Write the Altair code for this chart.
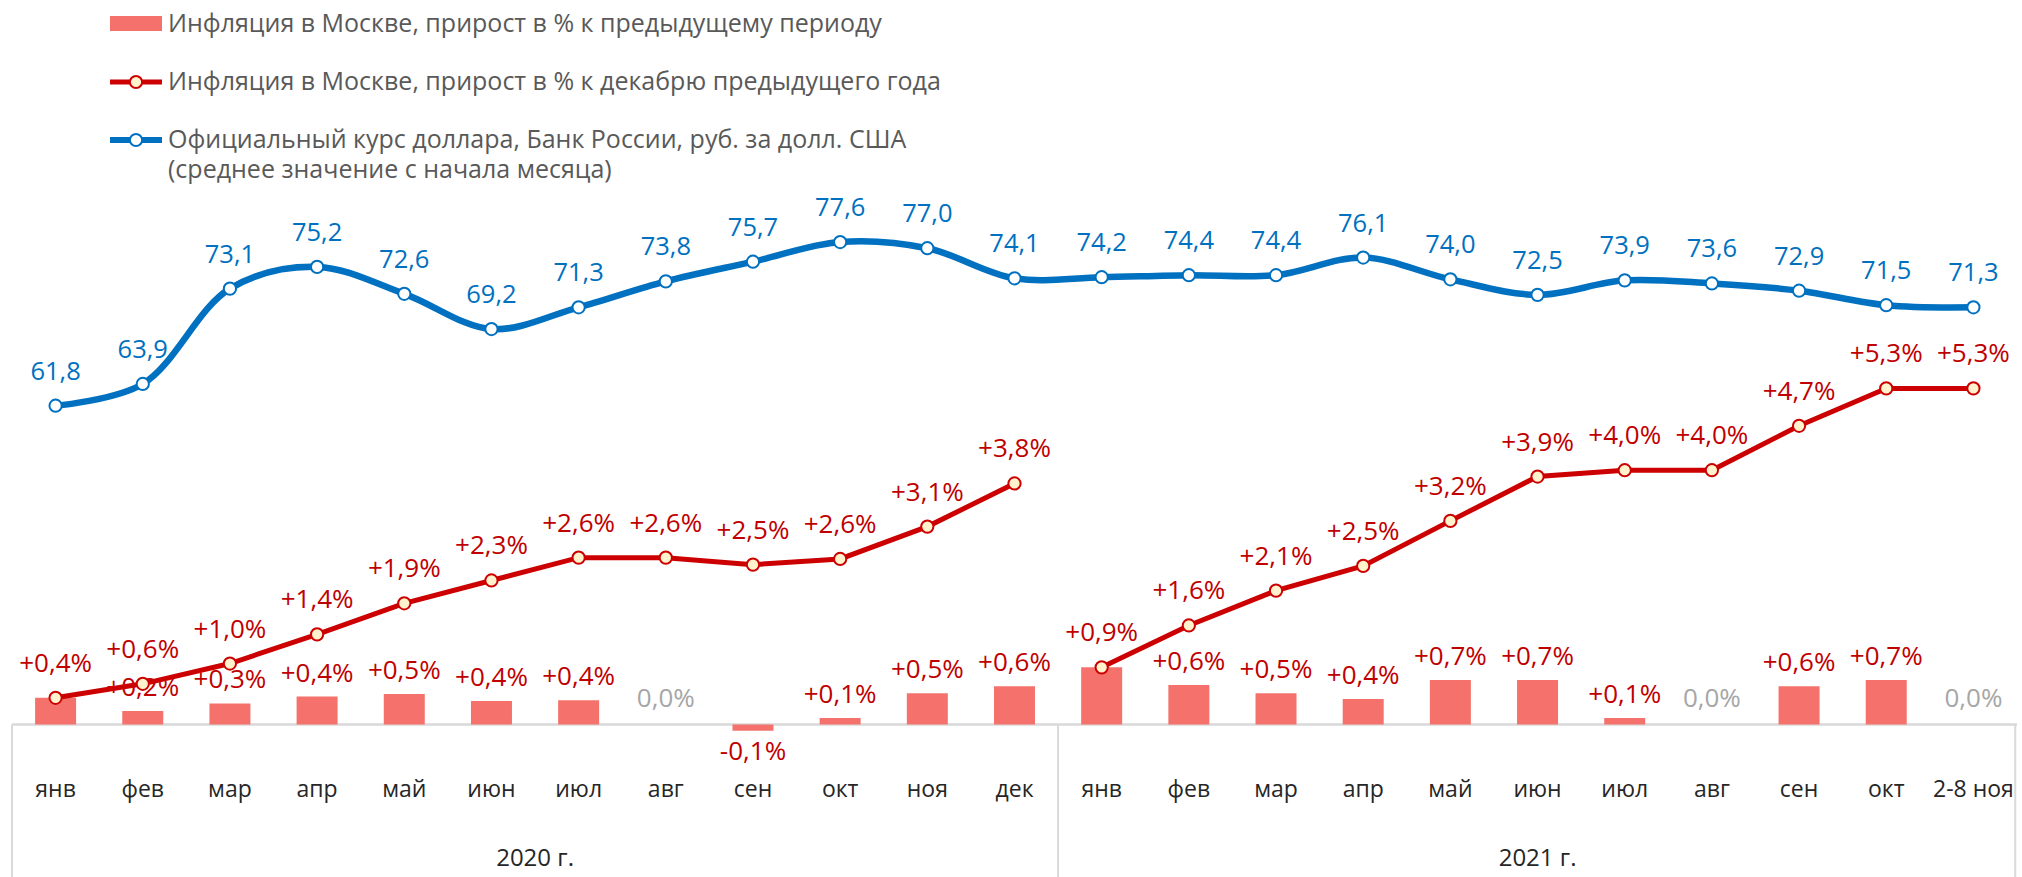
import altair as alt
import pandas as pd

# ---------------- data ----------------
months = ["янв", "фев", "мар", "апр", "май", "июн", "июл", "авг", "сен", "окт", "ноя", "дек",
          "янв", "фев", "мар", "апр", "май", "июн", "июл", "авг", "сен", "окт", "2-8 ноя"]
years = [2020] * 12 + [2021] * 11
monthly_inflation = [0.42, 0.21, 0.33, 0.44, 0.48, 0.37, 0.38, 0.00, -0.10, 0.10, 0.49, 0.60,
                     0.90, 0.62, 0.49, 0.40, 0.70, 0.70, 0.10, 0.00, 0.60, 0.70, 0.00]
ytd_inflation = [0.42, 0.64, 0.96, 1.42, 1.91, 2.27, 2.63, 2.63, 2.52, 2.61, 3.12, 3.80,
                 0.90, 1.56, 2.11, 2.50, 3.21, 3.91, 4.01, 4.01, 4.71, 5.30, 5.30]
usd_rate = [61.8, 63.9, 73.1, 75.2, 72.6, 69.2, 71.3, 73.8, 75.7, 77.6, 77.0, 74.1,
            74.2, 74.4, 74.4, 76.1, 74.0, 72.5, 73.9, 73.6, 72.9, 71.5, 71.3]
year_labels = ["2020 г.", "2021 г."]
legend_labels = [
    "Инфляция в Москве, прирост в % к предыдущему периоду",
    "Инфляция в Москве, прирост в % к декабрю предыдущего года",
    "Официальный курс доллара, Банк России, руб. за долл. США",
    "(среднее значение с начала месяца)",
]


def pct_label(v):
    r = round(v, 1)
    s = f"{abs(r):.1f}".replace(".", ",") + "%"
    if r > 0:
        return "+" + s
    if r < 0:
        return "-" + s
    return s


df = pd.DataFrame({
    "i": list(range(len(months))),
    "month": months,
    "year": years,
    "inc": monthly_inflation,
    "ytd": ytd_inflation,
    "usd": usd_rate,
})
df["inc_label"] = [pct_label(v) for v in monthly_inflation]
df["ytd_label"] = [pct_label(v) for v in ytd_inflation]
df["usd_label"] = [f"{v:.1f}".replace(".", ",") for v in usd_rate]

n = len(months)
year_df = pd.DataFrame({"x": [5.5, 17.0], "label": year_labels})
hline_df = pd.DataFrame({"x0": [-0.5], "x1": [n - 0.5], "y": [0.0]})
vline_df = pd.DataFrame({"x": [-0.5, 11.5, n - 0.52]})
one = pd.DataFrame({"k": [0]})

# ---------------- styles ----------------
FONT = "Open Sans"
BAR = "#F4726B"
RED = "#CC0000"
RED_TXT = "#C00000"
BLUE = "#0070C0"
GREY = "#A6A6A6"
FRAME = "#D9D9D9"

xs = alt.Scale(domain=[-0.5, n - 0.5], nice=False, zero=False)
pct = alt.Scale(domain=[-2.407, 11.426], nice=False, zero=False)
usd = alt.Scale(domain=[16.31, 100.96], nice=False, zero=False)

X = alt.X("i:Q", scale=xs, axis=None)
base = alt.Chart(df)

# frame
hline = alt.Chart(hline_df).mark_rule(color=FRAME, strokeWidth=2.5).encode(
    x=alt.X("x0:Q", scale=xs, axis=None), x2="x1:Q",
    y=alt.Y("y:Q", scale=pct, axis=None))
vlines = alt.Chart(vline_df).mark_rule(color=FRAME, strokeWidth=2).encode(
    x=alt.X("x:Q", scale=xs, axis=None),
    y=alt.Y("y:Q", scale=pct, axis=None), y2=alt.value(877)
).transform_calculate(y="0")

# bars
bars = base.mark_bar(size=41, color=BAR).encode(
    x=X, y=alt.Y("inc:Q", scale=pct, axis=None), y2=alt.datum(0))

lab_pos = base.transform_filter("datum.inc > 0.05 && datum.inc != datum.ytd").mark_text(
    font=FONT, fontSize=26, color=RED_TXT, dy=-23, baseline="middle", align="center").encode(
    x=X, y=alt.Y("inc:Q", scale=pct, axis=None), text="inc_label:N")
lab_neg = base.transform_filter("datum.inc < -0.05").mark_text(
    font=FONT, fontSize=26, color=RED_TXT, dy=21, baseline="middle", align="center").encode(
    x=X, y=alt.Y("inc:Q", scale=pct, axis=None), text="inc_label:N")
lab_zero = base.transform_filter("abs(datum.inc) < 0.05").mark_text(
    font=FONT, fontSize=26, color=GREY, dy=-25, baseline="middle", align="center").encode(
    x=X, y=alt.Y("inc:Q", scale=pct, axis=None), text="inc_label:N")

# cumulative inflation line
red_line = base.mark_line(color=RED, strokeWidth=5).encode(
    x=X, y=alt.Y("ytd:Q", scale=pct, axis=None), detail="year:N")
red_pts = base.mark_point(shape="circle", filled=True, fill="#FFF2CC", stroke=RED,
                          strokeWidth=2, size=150, opacity=1).encode(
    x=X, y=alt.Y("ytd:Q", scale=pct, axis=None))
red_lab = base.mark_text(font=FONT, fontSize=26, color=RED_TXT, dy=-34,
                         baseline="middle", align="center").encode(
    x=X, y=alt.Y("ytd:Q", scale=pct, axis=None), text="ytd_label:N")

# usd line
blue_line = base.mark_line(color=BLUE, strokeWidth=6.5, interpolate="catmull-rom").encode(
    x=X, y=alt.Y("usd:Q", scale=usd, axis=None))
blue_pts = base.mark_point(shape="circle", filled=True, fill="white", stroke=BLUE,
                           strokeWidth=2, size=150, opacity=1).encode(
    x=X, y=alt.Y("usd:Q", scale=usd, axis=None))
blue_lab = base.mark_text(font=FONT, fontSize=25.5, color=BLUE, dy=-34,
                          baseline="middle", align="center").encode(
    x=X, y=alt.Y("usd:Q", scale=usd, axis=None), text="usd_label:N")

# category labels
month_txt = base.mark_text(font=FONT, fontSize=23, color="#262626",
                           baseline="middle", align="center").encode(
    x=X, y=alt.value(790), text="month:N")
year_txt = alt.Chart(year_df).mark_text(font=FONT, fontSize=24, color="#262626",
                                        baseline="middle", align="center").encode(
    x=alt.X("x:Q", scale=xs, axis=None), y=alt.value(859), text="label:N")

# legend (drawn by hand)
leg_rect = alt.Chart(one).mark_rect(color=BAR).encode(
    x=alt.value(103), x2=alt.value(155), y=alt.value(16), y2=alt.value(31))
leg_red = alt.Chart(one).mark_rule(color=RED, strokeWidth=5).encode(
    x=alt.value(103), x2=alt.value(155), y=alt.value(82))
leg_red_pt = alt.Chart(one).mark_point(shape="circle", filled=True, fill="#FFF2CC", stroke=RED,
                                       strokeWidth=2, size=150, opacity=1).encode(
    x=alt.value(129), y=alt.value(82))
leg_blue = alt.Chart(one).mark_rule(color=BLUE, strokeWidth=6).encode(
    x=alt.value(103), x2=alt.value(155), y=alt.value(140))
leg_blue_pt = alt.Chart(one).mark_point(shape="circle", filled=True, fill="white", stroke=BLUE,
                                        strokeWidth=2, size=150, opacity=1).encode(
    x=alt.value(129), y=alt.value(140))
leg_texts = []
for lbl, yy in zip(legend_labels, [23.5, 82, 140, 170]):
    leg_texts.append(alt.Chart(one).mark_text(font=FONT, fontSize=25, color="#595959",
                                              align="left", baseline="middle").encode(
        x=alt.value(161), y=alt.value(yy), text=alt.value(lbl)))

chart = alt.layer(
    hline, vlines, bars, lab_pos, lab_neg, lab_zero,
    red_line, red_pts, red_lab,
    blue_line, blue_pts, blue_lab,
    month_txt, year_txt,
    leg_rect, leg_red, leg_red_pt, leg_blue, leg_blue_pt, *leg_texts,
).resolve_scale(y="independent").properties(
    width=2015, height=877,
    padding={"left": 7, "top": 0, "right": 0, "bottom": 0},
    autosize=alt.AutoSizeParams(type="none"),
    background="white",
).configure_view(stroke=None)

chart.save("out.html", embed_options={"renderer": "svg", "actions": False})
